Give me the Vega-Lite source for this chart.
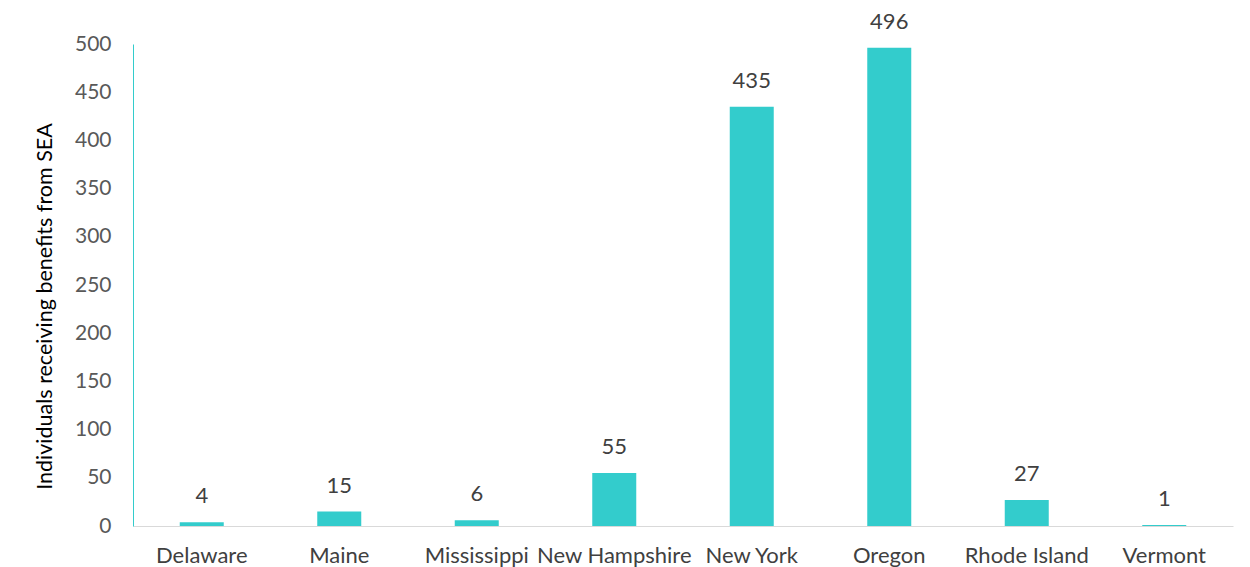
{
  "$schema": "https://vega.github.io/schema/vega-lite/v6.json",
  "autosize": {"type": "none"},
  "width": 1100,
  "height": 482,
  "padding": {"left": 133, "top": 44, "right": 17, "bottom": 41},
  "background": "white",
  "config": {"view": {"stroke": null}, "font": "Lato"},
  "data": {"values": [
    {"state": "Delaware", "value": 4},
    {"state": "Maine", "value": 15},
    {"state": "Mississippi", "value": 6},
    {"state": "New Hampshire", "value": 55},
    {"state": "New York", "value": 435},
    {"state": "Oregon", "value": 496},
    {"state": "Rhode Island", "value": 27},
    {"state": "Vermont", "value": 1}
  ]},
  "encoding": {
    "x": {
      "field": "state", "type": "nominal", "sort": null,
      "scale": {"paddingInner": 0.68, "paddingOuter": 0.34},
      "axis": {"title": null, "labelAngle": 0, "ticks": false, "domainColor": "#d9d9d9", "labelFontSize": 22, "labelColor": "#404040", "labelPadding": 19, "labelFont": "Lato"}
    },
    "y": {
      "field": "value", "type": "quantitative",
      "scale": {"domain": [0, 500], "nice": false},
      "axis": {"title": "Individuals receiving benefits from SEA", "values": [0,50,100,150,200,250,300,350,400,450,500], "grid": false, "ticks": false, "domainColor": "#33CCCC", "labelFontSize": 21, "labelColor": "#595959", "labelPadding": 22, "titleFontSize": 21.5, "titleFontWeight": "normal", "titleColor": "#000000", "titlePadding": 18, "titleY": 262, "titleAlign": "center", "labelFont": "Lato", "titleFont": "Lato"}
    }
  },
  "layer": [
    {"mark": {"type": "bar", "color": "#33CCCC"}},
    {"mark": {"type": "text", "baseline": "bottom", "dy": -14, "fontSize": 22, "color": "#404040", "font": "Lato"},
     "encoding": {"text": {"field": "value", "type": "quantitative"}}}
  ]
}
